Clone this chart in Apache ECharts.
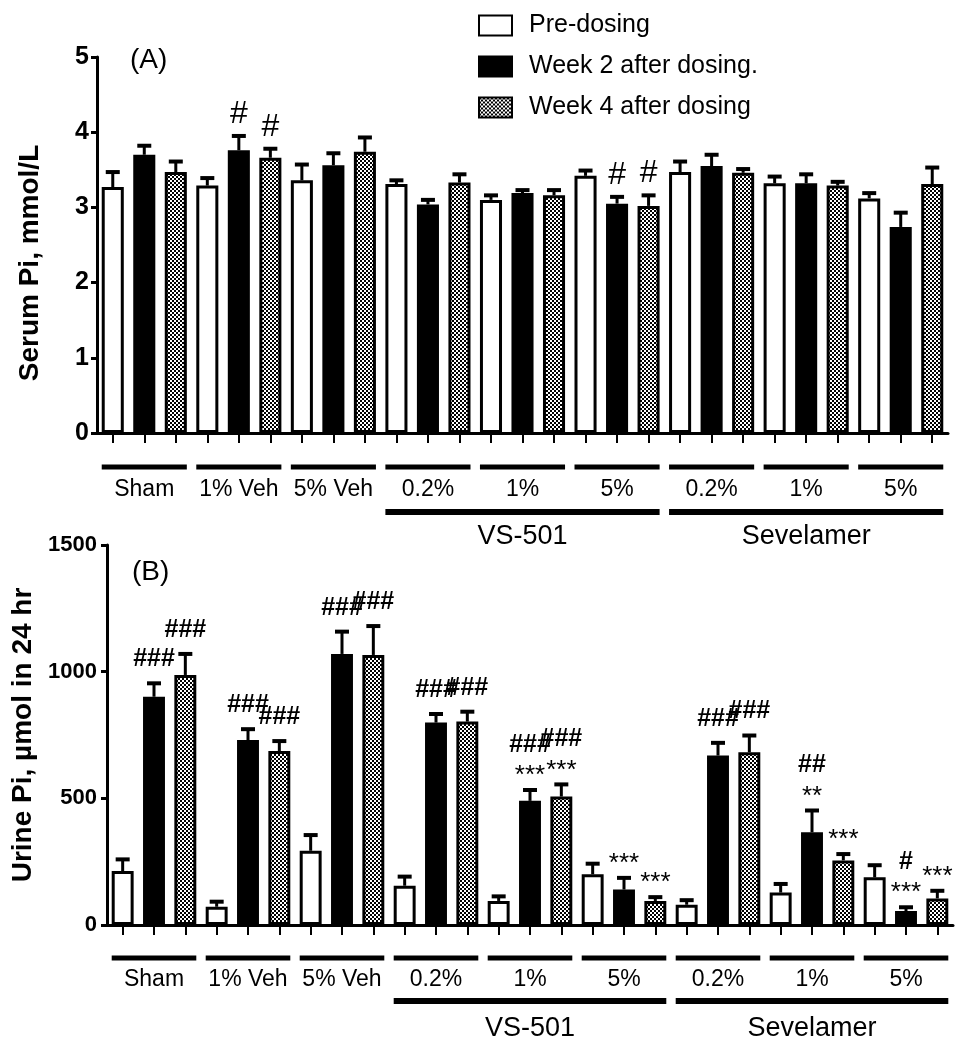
<!DOCTYPE html>
<html>
<head>
<meta charset="utf-8">
<title>Serum and urine Pi</title>
<script src="https://cdn.jsdelivr.net/npm/echarts@6/dist/echarts.min.js"></script>
<style>
  html, body { margin: 0; background: #fff; }
  #chart { width: 963px; height: 1050px; }
</style>
</head>
<body>
<div id="chart"></div>
<script>
// groups along the x axis, three bars (time points) in each
const groups = ['Sham', '1% Veh', '5% Veh', '0.2%', '1%', '5%', '0.2%', '1%', '5%'];
// drug name, first group index, last group index
const drugs = [['VS-501', 3, 5], ['Sevelamer', 6, 8]];
const seriesNames = ['Pre-dosing', 'Week 2 after dosing.', 'Week 4 after dosing'];

// (A) serum Pi, mmol/L  (mean, SEM)
const serumTicks = [0, 1, 2, 3, 4, 5];
const serumPre = [3.27, 3.29, 3.36, 3.31, 3.10, 3.42, 3.47, 3.32, 3.12];
const serumPreErr = [0.20, 0.10, 0.21, 0.05, 0.06, 0.07, 0.14, 0.09, 0.07];
const serumWk2 = [3.70, 3.76, 3.56, 3.04, 3.19, 3.05, 3.55, 3.32, 2.74];
const serumWk2Err = [0.12, 0.19, 0.16, 0.06, 0.04, 0.09, 0.15, 0.12, 0.19];
const serumWk4 = [3.47, 3.66, 3.74, 3.33, 3.16, 3.02, 3.46, 3.29, 3.31];
const serumWk4Err = [0.14, 0.12, 0.19, 0.11, 0.07, 0.14, 0.05, 0.05, 0.22];
const noteSerumWk2 = ['', '#', '', '', '', '#', '', '', ''];
const noteSerumWk4 = ['', '#', '', '', '', '#', '', '', ''];

// (B) urine Pi, umol in 24 hr  (mean, SEM)
const urineTicks = [0, 500, 1000, 1500];
const urinePre = [213, 72, 293, 155, 95, 200, 80, 128, 188];
const urinePreErr = [46, 20, 62, 36, 18, 42, 18, 34, 48];
const urineWk2 = [901, 730, 1070, 799, 490, 140, 669, 366, 55];
const urineWk2Err = [53, 43, 88, 34, 43, 46, 50, 86, 15];
const urineWk4 = [987, 687, 1066, 803, 507, 95, 682, 255, 105];
const urineWk4Err = [83, 39, 114, 39, 48, 15, 66, 25, 30];
const noteUrineWk2 = ['###', '###', '###', '###', '###\n***', '***', '###', '##\n**', '#\n***'];
const noteUrineWk4 = ['###', '###', '###', '###', '###\n***', '***', '###', '***', '***'];

// one slot per bar: 27 evenly spaced positions
const xCats = groups.flatMap((g, gi) => seriesNames.map((s, si) => gi + ':' + si));

// checkered fill for week 4
const chk = document.createElement('canvas');
chk.width = 4; chk.height = 4;
const cx = chk.getContext('2d');
cx.fillStyle = '#fff'; cx.fillRect(0, 0, 4, 4);
cx.fillStyle = '#000'; cx.fillRect(0, 0, 2, 2); cx.fillRect(2, 2, 2, 2);

const barStyles = [
    { color: '#fff', borderColor: '#000', borderWidth: 3 },
    { color: '#000', borderColor: '#000', borderWidth: 3 },
    { color: { image: chk, repeat: 'repeat' }, borderColor: '#000', borderWidth: 3 }
];

const panels = [
    {
        means: [serumPre, serumWk2, serumWk4],
        errs: [serumPreErr, serumWk2Err, serumWk4Err],
        notes: [[], noteSerumWk2, noteSerumWk4],
        hashSize: 32, hashWeight: 'normal', starSize: 26, firstHash: 22, firstStar: 20, step: 25,
        lab: { groupLine: 34, groupText: 57, drugLine: 79, drugText: 104 }
    },
    {
        means: [urinePre, urineWk2, urineWk4],
        errs: [urinePreErr, urineWk2Err, urineWk4Err],
        notes: [[], noteUrineWk2, noteUrineWk4],
        hashSize: 25, hashWeight: 'bold', starSize: 26, firstHash: 24, firstStar: 20, step: 25,
        lab: { groupLine: 33, groupText: 55, drugLine: 76, drugText: 104 }
    }
];

function slotData(values, si) {
    const out = xCats.map(() => '-');
    values.forEach((v, gi) => { out[gi * 3 + si] = v; });
    return out;
}

const series = [];
panels.forEach((p, pi) => {
    seriesNames.forEach((name, si) => {
        series.push({
            type: 'bar',
            name: name,
            xAxisIndex: pi,
            yAxisIndex: pi,
            data: slotData(p.means[si], si),
            barWidth: '70%',
            barGap: '-100%',
            itemStyle: barStyles[si]
        });
    });

    // error bars (upper only) + significance marks
    const items = [];
    seriesNames.forEach((name, si) => {
        p.means[si].forEach((v, gi) => {
            items.push({ value: [gi * 3 + si, v, p.errs[si][gi]], note: p.notes[si][gi] || '' });
        });
    });
    series.push({
        type: 'custom',
        xAxisIndex: pi,
        yAxisIndex: pi,
        clip: false,
        z: 3,
        data: items.map(d => d.value),
        renderItem(params, api) {
            const x = api.value(0), v = api.value(1), e = api.value(2);
            const base = api.coord([x, v]);
            const top = api.coord([x, v + e]);
            const children = [
                { type: 'line', shape: { x1: base[0], y1: base[1], x2: top[0], y2: top[1] }, style: { stroke: '#000', lineWidth: 3 } },
                { type: 'line', shape: { x1: top[0] - 7, y1: top[1], x2: top[0] + 7, y2: top[1] }, style: { stroke: '#000', lineWidth: 4 } }
            ];
            const note = items[params.dataIndex].note;
            if (note) {
                let cy = top[1];
                note.split('\n').reverse().forEach((t, k) => {
                    const star = t.indexOf('*') >= 0;
                    cy -= k === 0 ? (star ? p.firstStar : p.firstHash) : p.step;
                    children.push({
                        type: 'text',
                        style: {
                            text: t,
                            x: top[0],
                            y: star ? cy + 6 : cy,
                            fill: '#000',
                            fontSize: star ? p.starSize : p.hashSize,
                            fontWeight: star ? 'normal' : p.hashWeight,
                            fontFamily: 'Liberation Sans',
                            align: 'center',
                            verticalAlign: 'middle'
                        }
                    });
                });
            }
            return { type: 'group', children: children };
        }
    });

    // group and drug brackets under the axis
    const brackets = groups.map((g, gi) => ({ from: gi * 3, to: gi * 3 + 2, level: 0, label: g }))
        .concat(drugs.map(d => ({ from: d[1] * 3, to: d[2] * 3 + 2, level: 1, label: d[0] })));
    series.push({
        type: 'custom',
        xAxisIndex: pi,
        yAxisIndex: pi,
        clip: false,
        silent: true,
        encode: { x: [0, 1], y: 2 },
        data: brackets.map(b => [b.from, b.to, 0]),
        renderItem(params, api) {
            const b = brackets[params.dataIndex];
            const half = api.size([1, 0])[0] * 0.35;
            const p1 = api.coord([api.value(0), 0]);
            const p2 = api.coord([api.value(1), 0]);
            const drug = b.level === 1;
            const ly = p1[1] + (drug ? p.lab.drugLine : p.lab.groupLine);
            const ty = p1[1] + (drug ? p.lab.drugText : p.lab.groupText);
            return {
                type: 'group',
                children: [
                    { type: 'line', shape: { x1: p1[0] - half, y1: ly, x2: p2[0] + half, y2: ly }, style: { stroke: '#000', lineWidth: drug ? 6 : 5 } },
                    {
                        type: 'text',
                        style: {
                            text: b.label, x: (p1[0] + p2[0]) / 2, y: ty, fill: '#000',
                            fontSize: drug ? 27 : 23, fontFamily: 'Liberation Sans',
                            align: 'center', verticalAlign: 'middle'
                        }
                    }
                ]
            };
        }
    });
});

const xAxisBase = {
    type: 'category',
    data: xCats,
    axisLine: { lineStyle: { color: '#000', width: 3 } },
    axisTick: { show: true, alignWithLabel: true, interval: 0, length: 10, lineStyle: { color: '#000', width: 2 } },
    axisLabel: { show: false },
    splitLine: { show: false }
};

const chart = echarts.init(document.getElementById('chart'));
chart.setOption({
    animation: false,
    backgroundColor: '#fff',
    title: [
        { text: '(A)', left: 130, top: 46, padding: 0, textStyle: { fontSize: 28, fontWeight: 'normal', fontFamily: 'Liberation Sans', color: '#000' } },
        { text: '(B)', left: 132, top: 558, padding: 0, textStyle: { fontSize: 28, fontWeight: 'normal', fontFamily: 'Liberation Sans', color: '#000' } }
    ],
    legend: {
        data: seriesNames,
        orient: 'vertical',
        left: 473,
        top: 8,
        itemWidth: 33,
        itemHeight: 20,
        itemGap: 16,
        icon: 'rect',
        textStyle: { fontSize: 25, fontFamily: 'Liberation Sans', color: '#000', padding: [0, 0, 0, 12] }
    },
    grid: [
        { left: 97, right: 15, top: 57, height: 376 },
        { left: 107, right: 10, top: 545, height: 380 }
    ],
    xAxis: [
        Object.assign({ gridIndex: 0 }, xAxisBase),
        Object.assign({ gridIndex: 1 }, xAxisBase)
    ],
    yAxis: [
        {
            gridIndex: 0,
            type: 'value',
            min: serumTicks[0],
            max: serumTicks[serumTicks.length - 1],
            interval: serumTicks[1] - serumTicks[0],
            name: 'Serum Pi, mmol/L',
            nameLocation: 'middle',
            nameGap: 53,
            nameTextStyle: { fontSize: 28, fontWeight: 'bold', fontFamily: 'Liberation Sans', color: '#000', padding: [0, 36, 0, 0] },
            axisLine: { show: true, lineStyle: { color: '#000', width: 3 } },
            axisTick: { show: true, length: 6, lineStyle: { color: '#000', width: 3 } },
            axisLabel: { fontSize: 25, fontWeight: 'bold', fontFamily: 'Liberation Sans', color: '#000', margin: 8 },
            splitLine: { show: false }
        },
        {
            gridIndex: 1,
            type: 'value',
            min: urineTicks[0],
            max: urineTicks[urineTicks.length - 1],
            interval: urineTicks[1] - urineTicks[0],
            name: 'Urine Pi, \u00b5mol in 24 hr',
            nameLocation: 'middle',
            nameGap: 65,
            nameTextStyle: { fontSize: 28, fontWeight: 'bold', fontFamily: 'Liberation Sans', color: '#000' },
            axisLine: { show: true, lineStyle: { color: '#000', width: 3 } },
            axisTick: { show: true, length: 6, lineStyle: { color: '#000', width: 3 } },
            axisLabel: { fontSize: 22, fontWeight: 'bold', fontFamily: 'Liberation Sans', color: '#000', margin: 10, formatter: v => String(v) },
            splitLine: { show: false }
        }
    ],
    series: series
});
window.addEventListener('resize', () => chart.resize());
</script>
</body>
</html>
